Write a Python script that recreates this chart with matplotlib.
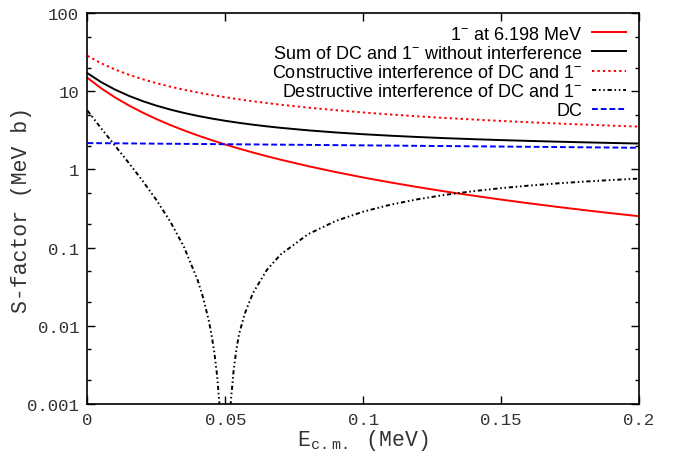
import numpy as np
import matplotlib
matplotlib.use('Agg')
import matplotlib.pyplot as plt
from matplotlib.ticker import FixedLocator, FuncFormatter, NullFormatter

plt.rcParams['mathtext.fontset'] = 'custom'
plt.rcParams['mathtext.rm'] = 'Liberation Sans'
plt.rcParams['mathtext.tt'] = 'Liberation Mono'

# energy grid (MeV) for the smooth curves
energy = [0.0, 0.005, 0.01, 0.015, 0.02, 0.025, 0.03, 0.035, 0.04, 0.045,
          0.05, 0.055, 0.06, 0.065, 0.07, 0.08, 0.09, 0.1, 0.11, 0.12,
          0.13, 0.14, 0.15, 0.16, 0.17, 0.18, 0.19, 0.2]

# 1- resonance at 6.198 MeV
s_res = [14.80, 10.87, 8.325, 6.578, 5.328, 4.403, 3.700, 3.152, 2.718, 2.368,
         2.081, 1.844, 1.644, 1.476, 1.332, 1.101, 0.925, 0.788, 0.680, 0.592,
         0.520, 0.461, 0.411, 0.369, 0.333, 0.302, 0.275, 0.252]

# sum without interference
s_sum = [16.97, 13.04, 10.48, 8.727, 7.470, 6.538, 5.828, 5.273, 4.832, 4.475,
         4.181, 3.937, 3.730, 3.555, 3.404, 3.159, 2.969, 2.818, 2.696, 2.594,
         2.508, 2.435, 2.371, 2.315, 2.265, 2.220, 2.179, 2.142]

# constructive interference
s_con = [28.30, 22.74, 18.95, 16.25, 14.23, 12.67, 11.44, 10.45, 9.627, 8.943,
         8.362, 7.865, 7.434, 7.058, 6.726, 6.169, 5.719, 5.348, 5.037, 4.771,
         4.542, 4.343, 4.166, 4.010, 3.869, 3.742, 3.627, 3.522]

# direct capture
s_dc = [2.170, 2.163, 2.156, 2.149, 2.142, 2.135, 2.128, 2.121, 2.114, 2.107,
        2.100, 2.093, 2.086, 2.079, 2.072, 2.058, 2.044, 2.030, 2.016, 2.002,
        1.988, 1.974, 1.960, 1.946, 1.932, 1.918, 1.904, 1.890]

# destructive interference (finer sampling around the minimum)
energy_des = [0.0, 0.005, 0.01, 0.015, 0.02, 0.025, 0.03, 0.035, 0.04, 0.042,
              0.044, 0.045, 0.046, 0.047, 0.048, 0.049, 0.0495, 0.05, 0.051,
              0.052, 0.053, 0.054, 0.055, 0.057, 0.06, 0.065, 0.07, 0.08,
              0.09, 0.1, 0.11, 0.12, 0.13, 0.14, 0.15, 0.16, 0.17, 0.18,
              0.19, 0.2]
s_des = [5.636, 3.337, 2.008, 1.207, 0.7134, 0.4060, 0.2159, 0.1018, 0.0379,
         0.0225, 0.0116, 0.0076, 0.00456, 0.00232, 0.00087, 0.00013, 0.000005,
         0.00004, 0.0003, 0.0011, 0.0027, 0.0050, 0.0079, 0.0142, 0.0262,
         0.0516, 0.0814, 0.1485, 0.2190, 0.2884, 0.3546, 0.4167, 0.4743,
         0.5272, 0.5758, 0.6203, 0.6608, 0.6977, 0.7315, 0.7621]

labels = [r'1$^{\mathrm{-}}$ at 6.198 MeV',
          r'Sum of DC and 1$^{\mathrm{-}}$ without interference',
          r'Constructive interference of DC and 1$^{\mathrm{-}}$',
          r'Destructive interference of DC and 1$^{\mathrm{-}}$',
          'DC']

fig = plt.figure(figsize=(6.73, 4.52), dpi=100)
ax = fig.add_axes([0.130, 0.104, 0.8195, 0.865])

ax.plot(energy, s_res, color='#ff0000', lw=1.4, label=labels[0])
ax.plot(energy, s_sum, color='black', lw=1.4, label=labels[1])
ax.plot(energy, s_con, color='#ff0000', lw=1.4, ls=(0, (1.2, 1.6)), label=labels[2])
ax.plot(energy_des, s_des, color='black', lw=1.4,
        ls=(0, (2.2, 1.4, 0.8, 1.4, 0.8, 1.4)), label=labels[3])
ax.plot(energy, s_dc, color='#0000ff', lw=1.4, ls=(0, (3, 1.5)), label=labels[4])

ax.set_yscale('log')
ax.set_xlim(0, 0.2)
ax.set_ylim(0.001, 100)

ax.xaxis.set_major_locator(FixedLocator([0, 0.05, 0.1, 0.15, 0.2]))
ax.xaxis.set_major_formatter(FuncFormatter(lambda v, p: '%g' % v))
ax.yaxis.set_major_locator(FixedLocator([0.001, 0.01, 0.1, 1, 10, 100]))
ax.yaxis.set_major_formatter(FuncFormatter(lambda v, p: '%g' % v))
minors = [m * 10.0 ** k for k in range(-3, 2) for m in (2, 5)]
ax.yaxis.set_minor_locator(FixedLocator(minors))
ax.yaxis.set_minor_formatter(NullFormatter())

ax.tick_params(which='both', direction='in', top=True, right=True)
ax.tick_params(which='major', length=6, width=1, labelsize=12.5, pad=6)
ax.tick_params(which='minor', length=3, width=1)
for lab in ax.get_xticklabels() + ax.get_yticklabels():
    lab.set_family('Liberation Mono')
    lab.set_color('#333333')
for sp in ax.spines.values():
    sp.set_linewidth(1.2)

ax.set_xlabel(r'E$_{\mathtt{c.m.}}$ (MeV)', family='Liberation Mono',
              fontsize=15.5, color='#333333', labelpad=0)
ax.set_ylabel('S-factor (MeV b)', family='Liberation Mono',
              fontsize=15.5, color='#333333')
ax.yaxis.set_label_coords(-0.10, 0.5)

leg = ax.legend(loc='upper right', frameon=False, markerfirst=False,
                prop={'family': 'Liberation Sans', 'size': 13},
                handlelength=1.9, handletextpad=0.55, labelspacing=0.12,
                borderaxespad=0.3)

fig.savefig('out.png', dpi=100)
